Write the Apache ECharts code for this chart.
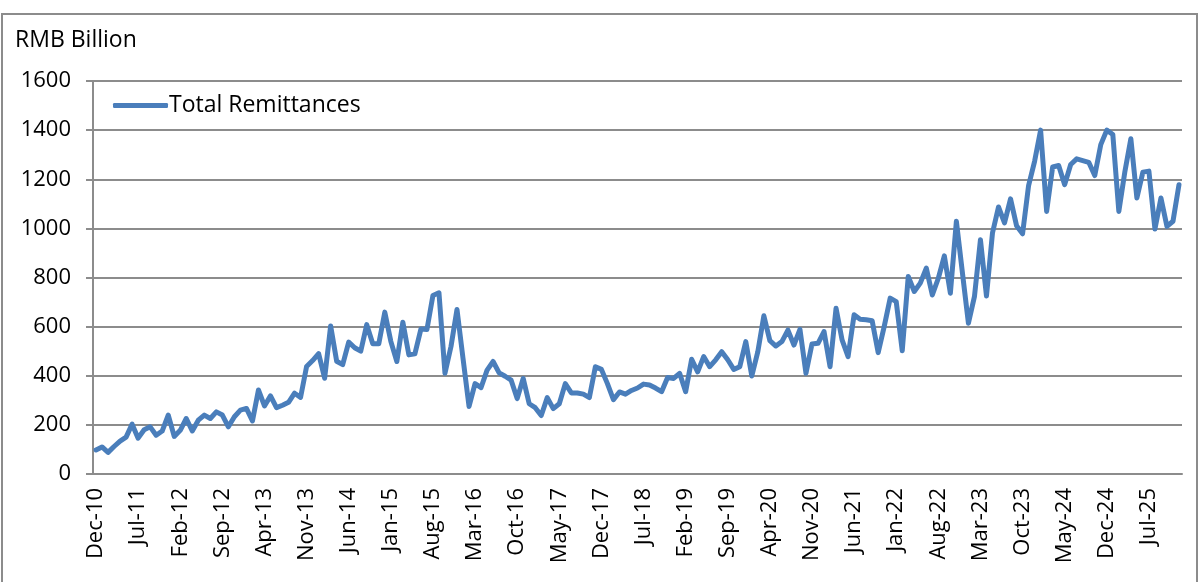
<!DOCTYPE html>
<html>
<head>
<meta charset="utf-8">
<script src="https://cdn.jsdelivr.net/npm/echarts@6/dist/echarts.min.js"></script>
<style>
html,body{margin:0;padding:0;background:#fff;}
#chart{width:1200px;height:582px;}
</style>
</head>
<body>
<div id="chart"></div>
<script>
// ---- data ----
const startYear = 2010;
const startMonth = 11; // December (0-based)
const monthNames = ["Jan","Feb","Mar","Apr","May","Jun","Jul","Aug","Sep","Oct","Nov","Dec"];
const seriesName = "Total Remittances";
const yAxisTitle = "RMB Billion";
const yTicks = [0, 200, 400, 600, 800, 1000, 1200, 1400, 1600];

// Monthly values, Dec-10 .. Dec-25 (RMB billion)
const remittances = [
  98, 110, 88, 112, 134, 150, 203, 146, 180, 192, 158, 175,
  240, 153, 178, 226, 175, 219, 240, 226, 253, 240, 192, 233,
  260, 267, 216, 342, 277, 318, 270, 280, 292, 329, 312, 438,
  462, 490, 390, 603, 459, 445, 537, 514, 500, 608, 530, 530,
  659, 540, 458, 618, 485, 489, 590, 588, 727, 738, 410, 519,
  670, 470, 275, 368, 352, 423, 458, 412, 398, 382, 307, 389,
  286, 270, 238, 311, 266, 286, 368, 330, 330, 325, 311, 437,
  426, 368, 303, 334, 325, 340, 350, 366, 362, 350, 335, 393,
  389, 410, 335, 467, 416, 478, 437, 465, 498, 465, 426, 437,
  539, 399, 498, 644, 543, 521, 539, 586, 525, 589, 410, 529,
  532, 580, 437, 675, 546, 478, 648, 630, 628, 624, 494, 600,
  716, 702, 502, 804, 743, 777, 838, 729, 797, 888, 736, 1029,
  820, 614, 722, 954, 725, 981, 1087, 1022, 1120, 1011, 978, 1174,
  1273, 1400, 1069, 1250, 1256, 1178, 1260, 1283, 1276, 1269, 1215, 1341,
  1400, 1382, 1069, 1230, 1365, 1124, 1229, 1233, 997, 1124, 1008, 1029,
  1178
];

const categories = [];
for (let i = 0; i < remittances.length; i++) {
  const t = startMonth + i;
  const y = startYear + Math.floor(t / 12);
  categories.push(monthNames[t % 12] + "-" + String(y % 100).padStart(2, "0"));
}

const FONT = "Open Sans";
const chart = echarts.init(document.getElementById("chart"), null, {renderer: "canvas"});
chart.setOption({
  animation: false,
  backgroundColor: "#ffffff",
  grid: {left: 93, right: 18, top: 81, bottom: 108, containLabel: false},
  graphic: [
    {type: "rect", shape: {x: 2, y: 14, width: 1195, height: 600},
     style: {fill: "none", stroke: "#8c8c8c", lineWidth: 2}, silent: true},
    {type: "text", left: 15, top: 29,
     style: {text: yAxisTitle, font: "23px '" + FONT + "'", fill: "#000"}}
  ],
  legend: {
    left: 108, top: 89,
    data: [seriesName],
    icon: "roundRect",
    itemWidth: 55, itemHeight: 5,
    textStyle: {fontFamily: FONT, fontSize: 23, color: "#000", padding: [0,0,0,-4]}
  },
  xAxis: {
    type: "category",
    data: categories,
    boundaryGap: true,
    axisLine: {lineStyle: {color: "#8c8c8c", width: 2}},
    axisTick: {interval: 6, length: 7, lineStyle: {color: "#8c8c8c", width: 2}},
    axisLabel: {interval: 6, rotate: 90, fontFamily: FONT, fontSize: 22, color: "#000", margin: 14},
    splitLine: {show: false}
  },
  yAxis: {
    type: "value",
    min: yTicks[0], max: yTicks[yTicks.length - 1], interval: 200,
    axisLine: {show: true, lineStyle: {color: "#8c8c8c", width: 2}},
    axisTick: {show: true, length: 7, lineStyle: {color: "#8c8c8c", width: 2}},
    axisLabel: {fontFamily: FONT, fontSize: 22, color: "#000", margin: 22,
                formatter: function (v) { return String(v); }},
    splitLine: {lineStyle: {color: "#8c8c8c", width: 2}}
  },
  series: [{
    name: seriesName,
    type: "line",
    data: remittances,
    showSymbol: false,
    symbol: "none",
    lineStyle: {color: "#4A7EBB", width: 5, cap: "round", join: "round"},
    itemStyle: {color: "#4A7EBB"}
  }]
});
</script>
</body>
</html>
